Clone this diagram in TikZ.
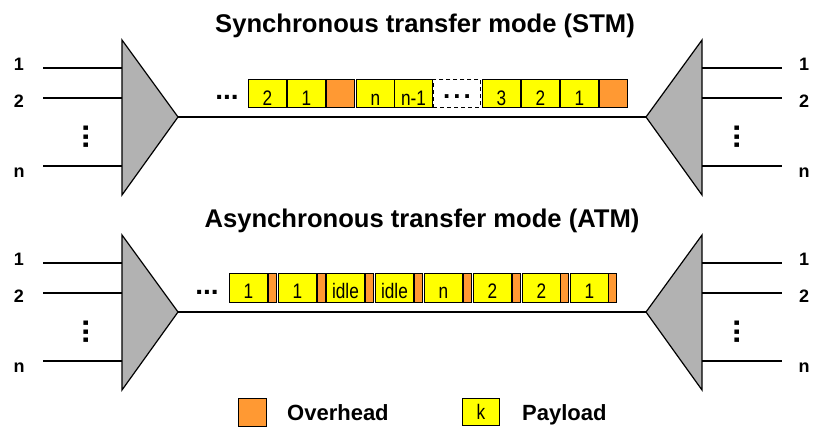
\documentclass[tikz,border=0pt]{standalone}
\usepackage{fontspec}
\setmainfont{Liberation Sans}
\newfontfamily\narrowfont{Liberation Sans}[FakeStretch=0.82]
\definecolor{ovcol}{RGB}{255,153,51}
\definecolor{paycol}{RGB}{255,255,0}
\definecolor{muxgray}{RGB}{178,178,178}
\begin{document}
\begin{tikzpicture}[x=1pt,y=-1pt,
  title/.style={font=\bfseries\fontsize{25.6}{28}\selectfont, inner sep=0pt, anchor=base},
  port/.style={font=\bfseries\fontsize{18}{20}\selectfont, inner sep=0pt, anchor=base},
  vdots/.style={font=\bfseries\fontsize{31}{31}\selectfont, inner sep=0pt, rotate=90},
  hdots/.style={font=\bfseries\fontsize{28}{28}\selectfont, inner sep=0pt, anchor=base},
  tri/.style={draw=black, fill=muxgray, line width=1.2pt, line join=miter},
  wire/.style={draw=black, line width=1.2pt},
  cellbase/.style={draw=black, line width=0.9pt, inner xsep=0pt, inner ysep=0pt,
    anchor=north west, font=\narrowfont\fontsize{21}{21}\selectfont},
  stmcell/.style={text height=26pt, text depth=2pt},
  atmcell/.style={text height=25pt, text depth=4pt},
  pay/.style={cellbase, fill=paycol, minimum width=38pt},
  ovh/.style={cellbase, fill=ovcol},
  gapbox/.style={cellbase, dashed, dash pattern=on 4pt off 3pt, minimum width=47pt},
  legend/.style={font=\bfseries\fontsize{22}{24}\selectfont, inner sep=0pt, anchor=base west}
]
\useasboundingbox (0,0) rectangle (813,426);

% titles
\node[title] (stmtitle) at (425,32) {Synchronous transfer mode (STM)};
\node[title] (atmtitle) at (422,227) {Asynchronous transfer mode (ATM)};

% multiplexer / demultiplexer pairs with their input and output lines
\foreach \r/\dy in {s/0,a/195}{
  \coordinate (\r Lt) at (122,40+\dy);
  \coordinate (\r Lo) at (178,117+\dy);
  \coordinate (\r Lb) at (122,195+\dy);
  \coordinate (\r Rt) at (702,40+\dy);
  \coordinate (\r Ro) at (646,117+\dy);
  \coordinate (\r Rb) at (702,195+\dy);
  \draw[tri] (\r Lt) -- (\r Lo) -- (\r Lb) -- cycle;
  \draw[tri] (\r Rt) -- (\r Ro) -- (\r Rb) -- cycle;
  \draw[wire] (\r Lo) -- (\r Ro);
  \foreach \k/\ly/\by in {1/68/70, 2/98/107, n/166/177}{
    \coordinate (\r in\k) at (43,\ly+\dy);
    \coordinate (\r out\k) at (782,\ly+\dy);
    \draw[wire] (\r in\k) -- (\r in\k -| \r Lt);
    \draw[wire] (\r Rt |- \r out\k) -- (\r out\k);
    \node[port] (\r inl\k) at (19,\by+\dy) {\k};
    \node[port] (\r outl\k) at (804,\by+\dy) {\k};
  }
  \node[vdots] (\r vl) at (86,137+\dy) {...};
  \node[vdots] (\r vr) at (737,137+\dy) {...};
}

% STM frame: fixed slots
\node[hdots] (sdots) at (227,99) {...};
\foreach \x/\t [count=\i] in {248/2, 287/1, 356/n, 394/n-1, 482/3, 521/2, 560/1}
  \node[pay, stmcell] (sp\i) at (\x,79) {\t};
\node[ovh, stmcell, minimum width=28pt] (so1) at (326,79) {};
\node[ovh, stmcell, minimum width=28pt] (so2) at (599,79) {};
\node[gapbox, text height=19pt, text depth=9pt, font=\bfseries\fontsize{26}{26}\selectfont]
  (sgap) at (433,79) {.\kern3pt.\kern3pt.};

% ATM stream: cells with headers
\node[hdots] (adots) at (207,294) {...};
\foreach \x/\t [count=\i] in {229/1, 278/1, 326/idle, 375/idle, 424/n, 473/2, 522/2, 570/1}
  \node[pay, atmcell] (ap\i) at (\x,273) {\t};
\foreach \x [count=\i] in {268,317,365,414,463,512,560,608}
  \node[ovh, atmcell, minimum width=8pt] (ao\i) at (\x,273) {};

% legend
\node[ovh, text height=28pt, text depth=0pt, minimum width=28pt] (keyov) at (238,398) {};
\node[legend] (keyovt) at (287,420) {Overhead};
\node[pay, text height=21pt, text depth=6pt, minimum width=37pt] (keypay) at (462,398) {k};
\node[legend] (keypayt) at (522,420) {Payload};
\end{tikzpicture}
\end{document}
